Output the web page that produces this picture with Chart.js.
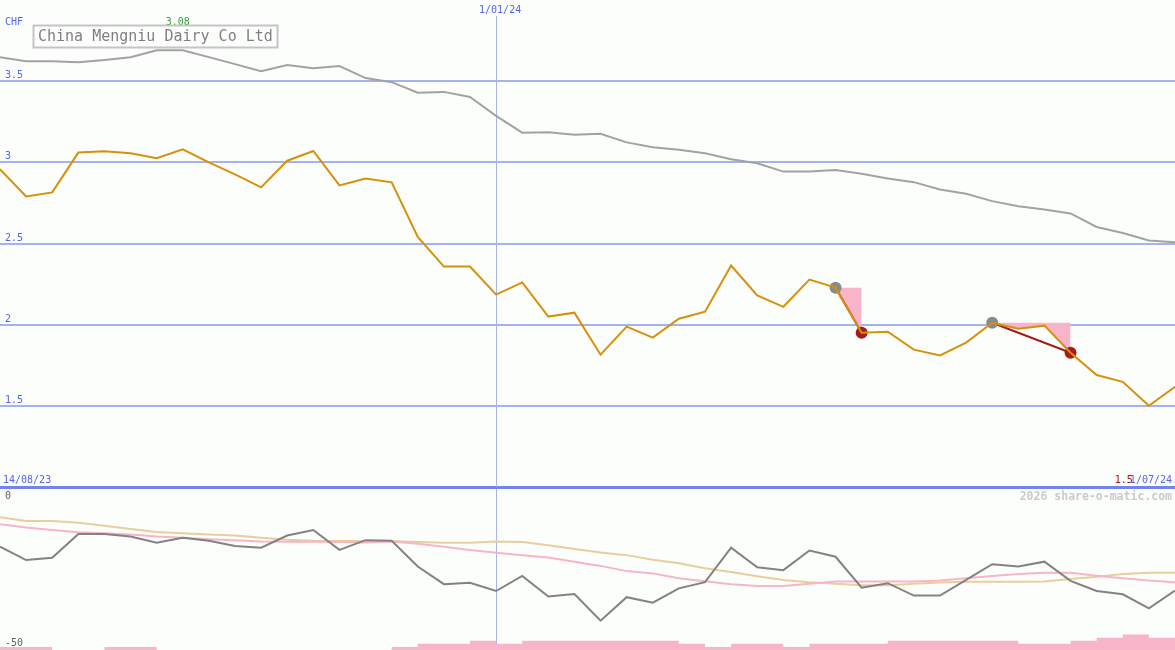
<!DOCTYPE html>
<html>
<head>
<meta charset="utf-8">
<script src="https://cdn.jsdelivr.net/npm/chart.js@4.4.1/dist/chart.umd.min.js"></script>
<style>
  html, body { margin: 0; padding: 0; background: #fcfefc; }
  #wrap { position: relative; width: 1175px; height: 650px; overflow: hidden; background: #fcfefc; }
  #top { position: absolute; left: 0; top: 0; }
  #bot { position: absolute; left: 0; top: 487px; }
</style>
</head>
<body>
<div id="wrap">
  <canvas id="top" width="1175" height="490"></canvas>
  <canvas id="bot" width="1175" height="163"></canvas>
</div>
<script>
// ---------- DATA ----------
const title = 'China Mengniu Dairy Co Ltd';
const currency = 'CHF';
const rangeStart = '14/08/23';
const markerDate = '1/01/24';
const watermark = '2026 share-o-matic.com';

const weeks = ['21/08/23','28/08/23','4/09/23','11/09/23','18/09/23','25/09/23','2/10/23','9/10/23','16/10/23','23/10/23','30/10/23',
  '6/11/23','13/11/23','20/11/23','27/11/23','4/12/23','11/12/23','18/12/23','25/12/23','1/01/24','8/01/24','15/01/24','22/01/24',
  '29/01/24','5/02/24','12/02/24','19/02/24','26/02/24','4/03/24','11/03/24','18/03/24','25/03/24','1/04/24','8/04/24','15/04/24',
  '22/04/24','29/04/24','6/05/24','13/05/24','20/05/24','27/05/24','3/06/24','10/06/24','17/06/24','24/06/24','1/07/24'];

const price = [2.957, 2.79, 2.815, 3.06, 3.068, 3.056, 3.025, 3.08, 3.0, 2.926, 2.846, 3.01, 3.07, 2.858, 2.90, 2.877,
  2.54, 2.358, 2.358, 2.185, 2.26, 2.05, 2.074, 1.815, 1.988, 1.92, 2.037, 2.08, 2.364, 2.18, 2.11, 2.278, 2.228,
  1.95, 1.957, 1.846, 1.81, 1.89, 2.012, 1.975, 1.994, 1.827, 1.69, 1.648, 1.50, 1.617];

const benchmark = [3.648, 3.623, 3.623, 3.617, 3.63, 3.648, 3.691, 3.691, 3.648, 3.605, 3.562, 3.599, 3.58, 3.593, 3.519,
  3.494, 3.429, 3.434, 3.403, 3.286, 3.183, 3.185, 3.17, 3.176, 3.123, 3.093, 3.077, 3.056, 3.019, 2.994, 2.943, 2.943,
  2.952, 2.93, 2.901, 2.878, 2.833, 2.807, 2.761, 2.73, 2.71, 2.685, 2.602, 2.565, 2.519, 2.508];

const momentum = [-18.3, -22.4, -21.7, -14.4, -14.4, -15.2, -17.1, -15.6, -16.5, -18.1, -18.6, -14.9, -13.2, -19.3, -16.3,
  -16.5, -24.4, -29.8, -29.4, -31.9, -27.3, -33.6, -32.8, -41.0, -33.8, -35.5, -31.1, -29.2, -18.6, -24.6, -25.5, -19.5,
  -21.4, -30.9, -29.5, -33.3, -33.3, -28.5, -23.7, -24.4, -22.9, -28.8, -31.9, -32.9, -37.2, -31.8];

const slowAvg = [-9.3, -10.4, -10.4, -11.0, -11.9, -12.9, -13.8, -14.2, -14.6, -14.9, -15.6, -16.2, -16.5, -16.6, -16.6,
  -16.6, -16.9, -17.1, -17.1, -16.7, -16.9, -17.9, -19.0, -20.1, -20.9, -22.3, -23.4, -24.9, -26.1, -27.4, -28.5, -29.2,
  -29.7, -30.1, -30.1, -29.7, -29.3, -29.1, -29.1, -29.1, -29.0, -28.2, -27.5, -26.7, -26.3, -26.3];

const fastAvg = [-11.4, -12.4, -13.2, -13.9, -14.2, -14.6, -15.2, -15.6, -16.0, -16.3, -16.7, -16.8, -16.8, -16.9, -17.0,
  -16.7, -17.4, -18.3, -19.3, -20.2, -20.9, -21.6, -22.9, -24.2, -25.8, -26.5, -28.0, -28.9, -29.8, -30.4, -30.4, -29.7,
  -29.0, -29.0, -29.0, -29.0, -28.7, -28.0, -27.3, -26.7, -26.3, -26.3, -27.2, -28.0, -28.7, -29.2];

// volume per week interval (between consecutive points), relative units
const volume = [1,1,0,0,1,1,0,0,0,0,0,0,0,0,0,1,2,2,3,2,3,3,3,3,3,3,2,1,2,2,1,2,2,2,3,3,3,3,3,2,2,3,4,5,4];

// sell signals: from index (grey marker) to index (red marker)
const signalFrom = [32, 38];
const signalTo = [33, 41];

const priceTicks = [1.5, 2, 2.5, 3, 3.5];
const priceMin = 1, priceMax = 4;
const oscMin = -50, oscMax = 0;

// ---------- STYLE ----------
const BG = '#fcfefc';
const BLUE_TXT = '#5464f0';
const GRID = '#a4b2f0';
const AXISLINE = '#7484ec';
const VLINE = '#aab2e6';
const MONO = '"DejaVu Sans Mono", "Liberation Mono", monospace';

const n = weeks.length;
const markerIdx = weeks.indexOf(markerDate);

function sparse(fn) { return weeks.map((_, i) => fn(i)); }

const datasets = [
  { label: 'benchmark', data: benchmark, borderColor: '#a2a2a2', borderWidth: 2, pointRadius: 0, tension: 0, order: 5 },
  { label: 'price', data: price, borderColor: '#d6900a', borderWidth: 2, pointRadius: 0, tension: 0, order: 0 }
];
signalFrom.forEach((f, s) => {
  const t = signalTo[s];
  datasets.push({ label: 'zone' + s, data: sparse(i => (i >= f && i <= t) ? price[f] : null),
    borderWidth: 0, borderColor: 'rgba(0,0,0,0)', backgroundColor: '#f8b4c8', pointRadius: 0, tension: 0,
    fill: { target: 1 }, order: 4 });
  datasets.push({ label: 'link' + s, data: sparse(i => (i === f || i === t) ? price[i] : null),
    borderColor: '#a41c1c', borderWidth: 2, pointRadius: 0, spanGaps: true, tension: 0, order: 3 });
});
datasets.push({ label: 'from', data: sparse(i => signalFrom.includes(i) ? price[i] : null), showLine: false,
  pointRadius: 6, pointBackgroundColor: '#8a8a8a', pointBorderWidth: 0, order: 1 });
datasets.push({ label: 'to', data: sparse(i => signalTo.includes(i) ? price[i] : null), showLine: false,
  pointRadius: 6, pointBackgroundColor: '#a41c1c', pointBorderWidth: 0, order: 1 });

function fmt(v) { return String(Number(v.toFixed(2))); }

const topPlugin = {
  id: 'topText',
  beforeDatasetsDraw(chart) {
    const ctx = chart.ctx, x = chart.scales.x, a = chart.chartArea;
    const px = Math.round(x.getPixelForValue(markerIdx)) + 0.5;
    ctx.save();
    ctx.strokeStyle = VLINE; ctx.lineWidth = 1;
    ctx.beginPath(); ctx.moveTo(px, 16); ctx.lineTo(px, a.bottom); ctx.stroke();
    ctx.restore();
  },
  afterDraw(chart) {
    const ctx = chart.ctx, x = chart.scales.x, y = chart.scales.y;
    ctx.save();
    ctx.textBaseline = 'alphabetic';
    ctx.font = '10px ' + MONO;
    ctx.fillStyle = BLUE_TXT;
    ctx.textAlign = 'left';
    ctx.fillText(currency, 5, 25);
    priceTicks.forEach(v => ctx.fillText(fmt(v), 5, Math.round(y.getPixelForValue(v)) - 3));
    ctx.fillText(rangeStart, 3, 483);
    ctx.textAlign = 'right';
    ctx.fillText(weeks[n - 1], 1172, 483);
    ctx.textAlign = 'center';
    ctx.fillText(markerDate, x.getPixelForValue(markerIdx) + 4, 13);
    // max / min
    const maxV = Math.max(...price), minV = Math.min(...price);
    const maxI = price.indexOf(maxV), minI = price.indexOf(minV);
    ctx.fillStyle = '#34a034';
    ctx.fillText(fmt(maxV), x.getPixelForValue(maxI) - 5, 25);
    ctx.fillStyle = '#a81414';
    ctx.textAlign = 'right';
    ctx.fillText(fmt(minV), x.getPixelForValue(minI) - 16, 483);
    // title box
    ctx.fillStyle = BG;
    ctx.fillRect(33, 25, 245, 23);
    ctx.strokeStyle = '#c4c4c4'; ctx.lineWidth = 2;
    ctx.strokeRect(33.5, 25.5, 244, 22);
    ctx.fillStyle = '#808080';
    ctx.textAlign = 'left';
    ctx.font = '15px ' + MONO;
    ctx.fillText(title, 38, 41);
    ctx.restore();
  }
};

new Chart(document.getElementById('top'), {
  type: 'line',
  data: { labels: weeks, datasets },
  options: {
    responsive: false, animation: false, devicePixelRatio: 1,
    layout: { autoPadding: false, padding: { left: 0, right: 0, top: 0, bottom: 3 } },
    plugins: { legend: { display: false }, tooltip: { enabled: false } },
    scales: {
      x: { type: 'category', display: false, offset: false },
      y: {
        min: priceMin, max: priceMax, display: true,
        ticks: { display: false, stepSize: 0.5 },
        border: { display: false },
        grid: {
          drawTicks: false,
          color: c => (c.tick && c.tick.value === priceMin) ? AXISLINE : (priceTicks.includes(c.tick && c.tick.value) ? GRID : 'rgba(0,0,0,0)'),
          lineWidth: c => (c.tick && c.tick.value === priceMin) ? 3 : 2
        }
      }
    }
  },
  plugins: [topPlugin]
});

const botPlugin = {
  id: 'botText',
  beforeDatasetsDraw(chart) {
    const ctx = chart.ctx, x = chart.scales.x, a = chart.chartArea;
    const px = Math.round(x.getPixelForValue(markerIdx)) + 0.5;
    ctx.save();
    ctx.strokeStyle = VLINE; ctx.lineWidth = 1;
    ctx.beginPath(); ctx.moveTo(px, 2); ctx.lineTo(px, a.bottom); ctx.stroke();
    ctx.restore();
  },
  afterDraw(chart) {
    const ctx = chart.ctx;
    ctx.save();
    ctx.textBaseline = 'alphabetic';
    ctx.font = '10px ' + MONO;
    ctx.fillStyle = '#606060';
    ctx.textAlign = 'left';
    ctx.fillText(String(oscMax), 5, 12);
    ctx.fillText(String(oscMin), 5, 159);
    ctx.font = 'bold 11.5px ' + MONO;
    ctx.fillStyle = '#cacaca';
    ctx.textAlign = 'right';
    ctx.fillText(watermark, 1172, 13);
    ctx.restore();
  }
};

// volume drawn as a stepped area: each interval's value held from point k to k+1
const volumeSteps = volume.concat([volume[volume.length - 1]]);

new Chart(document.getElementById('bot'), {
  type: 'line',
  data: {
    labels: weeks,
    datasets: [
      { label: 'momentum', data: momentum, borderColor: '#828282', borderWidth: 2, pointRadius: 0, tension: 0, order: 0 },
      { label: 'fast', data: fastAvg, borderColor: '#f8b4c8', borderWidth: 2, pointRadius: 0, tension: 0, order: 1 },
      { label: 'slow', data: slowAvg, borderColor: '#e6cf9c', borderWidth: 2, pointRadius: 0, tension: 0, order: 2 },
      { label: 'volume', data: volumeSteps, yAxisID: 'yv', stepped: 'before', borderWidth: 0,
        borderColor: 'rgba(0,0,0,0)', backgroundColor: '#f8b4c8', fill: 'origin', pointRadius: 0, order: 3 }
    ]
  },
  options: {
    responsive: false, animation: false, devicePixelRatio: 1,
    layout: { autoPadding: false, padding: 0 },
    plugins: { legend: { display: false }, tooltip: { enabled: false } },
    scales: {
      x: { type: 'category', display: false, offset: false },
      y: { min: oscMin, max: oscMax, display: false },
      yv: { min: 0, max: 53, display: false }
    }
  },
  plugins: [botPlugin]
});
</script>
</body>
</html>
